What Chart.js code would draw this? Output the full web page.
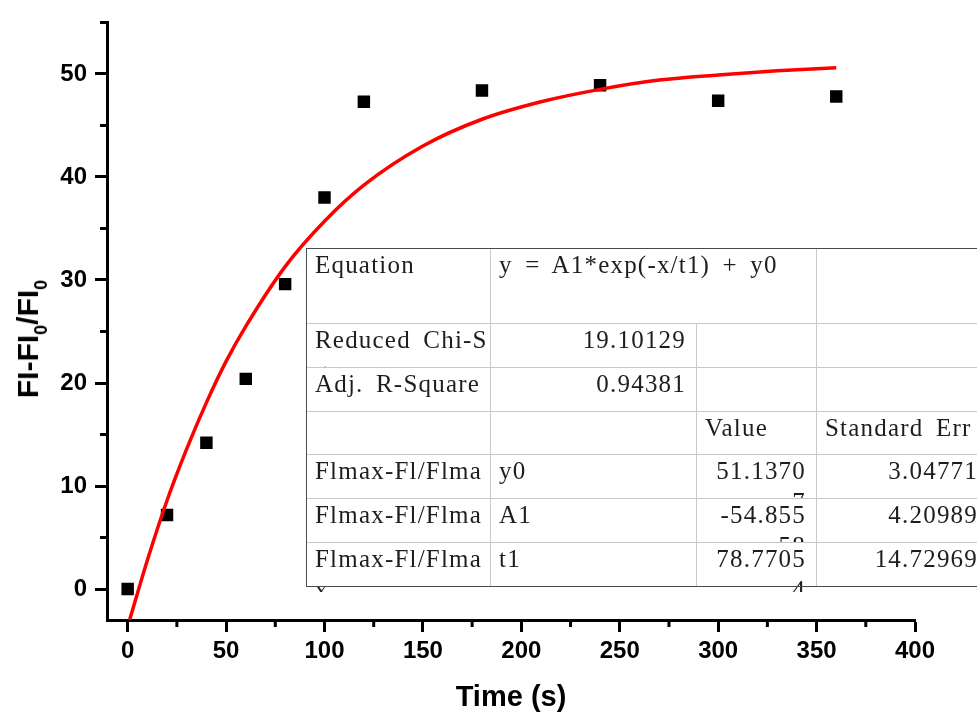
<!DOCTYPE html>
<html>
<head>
<meta charset="utf-8">
<script src="https://cdn.jsdelivr.net/npm/chart.js@4.4.1/dist/chart.umd.min.js"></script>
<style>
  html, body { margin: 0; padding: 0; background: #fff; overflow: hidden; }
  #wrap { position: relative; width: 977px; height: 713px; overflow: hidden; background: #fff; }
  #c { position: absolute; left: 0; top: 0; }
  .axis-title { position: absolute; font-family: 'Liberation Sans', Arial, sans-serif; font-weight: bold; color: #000; white-space: nowrap; }
  #xtitle { left: 0; width: 1022px; top: 682px; font-size: 29px; line-height: 29px; text-align: center; }
  #ytitle { font-size: 30px; line-height: 30px; left: 28px; top: 339px; transform: translate(-50%, -50%) rotate(-90deg); }
  #ytitle sub { font-size: 18px; vertical-align: -9px; line-height: 0; }
  .cell { position: absolute; overflow: hidden; box-sizing: border-box; padding-top: 1px;
          font-family: 'Liberation Serif', 'Times New Roman', serif; font-size: 25px; line-height: 31px;
          letter-spacing: 1.2px; word-spacing: 5px; color: #1e1e1e; white-space: pre; }
  .cell.l { padding-left: 9px; text-align: left; }
  .cell.r { padding-right: 10px; text-align: right; }
  .rule { position: absolute; background: #c8c8c8; }
  .rule.outer { background: #4a4a4a; }
</style>
</head>
<body>
<div id="wrap">
  <canvas id="c" width="977" height="713"></canvas>
  <div id="xtitle" class="axis-title">Time (s)</div>
  <div id="ytitle" class="axis-title">FI-FI<sub>0</sub>/FI<sub>0</sub></div>
  <div id="fit"></div>
</div>
<script>
// Measured response over time
const timeS = [0, 20, 40, 60, 80, 100, 120, 180, 240, 300, 360];
const ratio = [0, 7.2, 14.2, 20.4, 29.6, 38.0, 47.3, 48.4, 48.9, 47.4, 47.8];

// Exponential fit curve
const fitTime  = [1, 10, 20, 30, 40, 50, 60, 80, 100, 120, 150, 180, 210, 240, 270, 300, 330, 360];
const fitRatio = [-3, 2.8, 8.6, 13.6, 18.1, 22.1, 25.5, 31.3, 35.7, 39.2, 43.0, 45.6, 47.3, 48.5, 49.4, 49.9, 50.3, 50.6];

// Axis ticks
const xTicks = [0, 50, 100, 150, 200, 250, 300, 350, 400];
const xMinor = [25, 75, 125, 175, 225, 275, 325, 375];
const yTicks = [0, 10, 20, 30, 40, 50];
const yMinor = [5, 15, 25, 35, 45, 55];

// Fit report
const equation = 'y = A1*exp(-x/t1) + y0';
const reducedChiSq = '19.10129';
const adjRSquare = '0.94381';
const seriesName = 'Flmax-Fl/Flmax';
const paramNames = ['y0', 'A1', 't1'];
const paramValues = ['51.13707', '-54.85558', '78.77054'];
const paramErrors = ['3.04771', '4.20989', '14.72969'];

// Short ticks between the labelled ones
const minorTicks = {
  id: 'minorTicks',
  afterDraw(chart) {
    const { ctx, chartArea, scales } = chart;
    ctx.save();
    ctx.strokeStyle = '#000';
    ctx.lineWidth = 3;
    ctx.beginPath();
    yMinor.forEach(v => {
      const py = scales.y.getPixelForValue(v);
      ctx.moveTo(chartArea.left - 7, py);
      ctx.lineTo(chartArea.left, py);
    });
    xMinor.forEach(v => {
      const px = scales.x.getPixelForValue(v);
      ctx.moveTo(px, chartArea.bottom);
      ctx.lineTo(px, chartArea.bottom + 7);
    });
    ctx.stroke();
    ctx.restore();
  }
};

const tickFont = { family: 'Liberation Sans', weight: 'bold', size: 24 };

new Chart(document.getElementById('c').getContext('2d'), {
  type: 'scatter',
  data: {
    datasets: [
      {
        type: 'line',
        data: fitTime.map((t, i) => ({ x: t, y: fitRatio[i] })),
        borderColor: '#ff0000',
        borderWidth: 3.5,
        pointRadius: 0,
        cubicInterpolationMode: 'monotone',
        fill: false
      },
      {
        data: timeS.map((t, i) => ({ x: t, y: ratio[i] })),
        pointStyle: 'rect',
        pointRadius: 8.8,
        backgroundColor: '#000',
        borderColor: '#000',
        borderWidth: 0
      }
    ]
  },
  options: {
    responsive: false,
    animation: false,
    devicePixelRatio: 1,
    layout: { padding: { top: 18, right: 62, left: 0, bottom: 0 } },
    plugins: { legend: { display: false }, tooltip: { enabled: false } },
    scales: {
      x: {
        type: 'linear',
        min: -10.5,
        max: 400,
        afterBuildTicks: s => { s.ticks = xTicks.map(v => ({ value: v })); },
        afterFit: s => { s.height = 93; },
        border: { display: true, color: '#000', width: 3 },
        grid: { drawOnChartArea: false, drawTicks: true, tickLength: 12, tickWidth: 3, tickColor: '#000' },
        ticks: { font: tickFont, color: '#000', padding: 5, maxRotation: 0, autoSkip: false }
      },
      y: {
        type: 'linear',
        min: -3,
        max: 55,
        afterBuildTicks: s => { s.ticks = yTicks.map(v => ({ value: v })); },
        afterFit: s => { s.width = 107; },
        border: { display: true, color: '#000', width: 3 },
        grid: { drawOnChartArea: false, drawTicks: true, tickLength: 12, tickWidth: 3, tickColor: '#000' },
        ticks: { font: tickFont, color: '#000', padding: 8, autoSkip: false }
      }
    }
  },
  plugins: [minorTicks]
});

// Fit report table
const fit = document.getElementById('fit');
const colX = [306, 490, 696, 816, 988];
const rowY = [248, 323, 367, 411, 454, 498, 542, 586];

function wrapChars(text, n) {
  const lines = [];
  for (let i = 0; i < text.length; i += n) lines.push(text.slice(i, i + n));
  return lines.length ? lines : [''];
}

function cell(c0, c1, r, text, align, maxChars, extra) {
  const d = document.createElement('div');
  d.className = 'cell ' + align;
  d.style.left = colX[c0] + 'px';
  d.style.width = (colX[c1] - colX[c0]) + 'px';
  d.style.top = rowY[r] + 'px';
  d.style.height = (rowY[r + 1] - rowY[r] + (extra || 0)) + 'px';
  wrapChars(text, maxChars || 99).forEach(line => {
    const ln = document.createElement('div');
    ln.textContent = line;
    d.appendChild(ln);
  });
  fit.appendChild(d);
}

cell(0, 1, 0, 'Equation', 'l');
cell(1, 3, 0, equation, 'l');
cell(0, 1, 1, 'Reduced Chi-Sqr', 'l', 13);
cell(1, 2, 1, reducedChiSq, 'r');
cell(0, 1, 2, 'Adj. R-Square', 'l', 13);
cell(1, 2, 2, adjRSquare, 'r');
cell(2, 3, 3, 'Value', 'l');
cell(3, 4, 3, 'Standard Error', 'l', 12);
paramNames.forEach((p, i) => {
  const last = i === paramNames.length - 1 ? 6 : 0;
  cell(0, 1, 4 + i, seriesName, 'l', 13, last);
  cell(1, 2, 4 + i, p, 'l');
  cell(2, 3, 4 + i, paramValues[i], 'r', 7, last);
  cell(3, 4, 4 + i, paramErrors[i], 'r', 12);
});

function rule(x, y, w, h, outer) {
  const d = document.createElement('div');
  d.className = 'rule' + (outer ? ' outer' : '');
  d.style.left = x + 'px'; d.style.top = y + 'px';
  d.style.width = w + 'px'; d.style.height = h + 'px';
  fit.appendChild(d);
}
const tblW = colX[4] - colX[0];
const tblH = rowY[7] - rowY[0];
for (let r = 1; r < 7; r++) rule(colX[0], rowY[r], tblW, 1);
rule(colX[1], rowY[0], 1, tblH);
rule(colX[3], rowY[0], 1, tblH);
rule(colX[2], rowY[1], 1, rowY[7] - rowY[1]);
rule(colX[0], rowY[0], tblW, 1, true);
rule(colX[0], rowY[7], tblW, 1, true);
rule(colX[0], rowY[0], 1, tblH + 1, true);
</script>
</body>
</html>
